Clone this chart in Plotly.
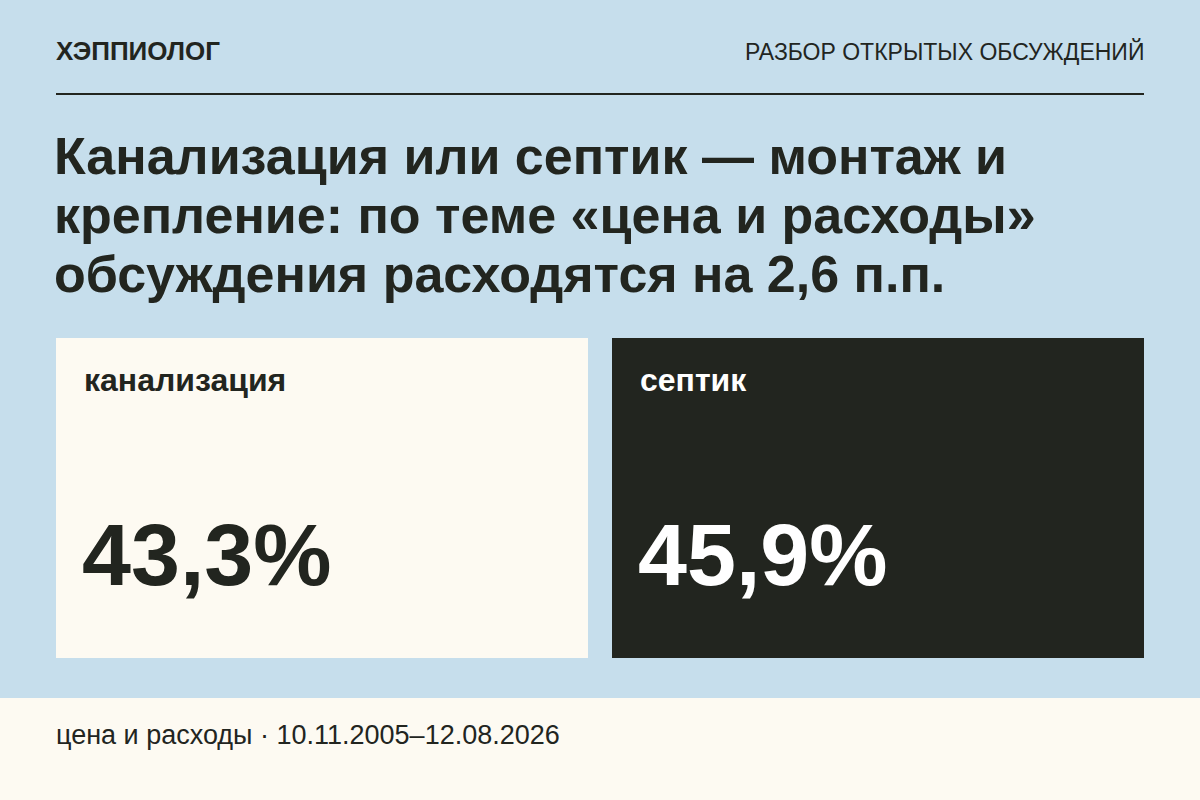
import plotly.graph_objects as go

brand = "ХЭППИОЛОГ"
kicker = "РАЗБОР ОТКРЫТЫХ ОБСУЖДЕНИЙ"
title_lines = ["Канализация или септик — монтаж и",
               "крепление: по теме «цена и расходы»",
               "обсуждения расходятся на 2,6 п.п."]
categories = ["канализация", "септик"]
values = [43.3, 45.9]
footer = "цена и расходы · 10.11.2005–12.08.2026"

BG = "#c6deec"
CREAM = "#fdfaf2"
DARK = "#22251f"
FONT = "Liberation Sans"

fig = go.Figure()

# cards as bars
card_x = [322, 878]
fig.add_trace(go.Bar(x=card_x, y=[320, 320], base=[338, 338], width=532,
                     marker=dict(color=[CREAM, DARK], line=dict(width=0)),
                     hoverinfo="skip", showlegend=False))

fig.add_shape(type="rect", x0=0, x1=1200, y0=698, y1=800, fillcolor=CREAM,
              line_width=0, layer="below")
fig.add_shape(type="line", x0=56, x1=1144, y0=94, y1=94, line=dict(color=DARK, width=2))

def txt(x, y, s, size, color=DARK, bold=False, anchor="left"):
    fig.add_annotation(x=x, y=y, text=f"<b>{s}</b>" if bold else s, showarrow=False,
                       xanchor=anchor, yanchor="middle",
                       font=dict(family=FONT, size=size, color=color))

txt(54, 51, brand, 26, bold=True)
txt(1146, 51, kicker, 23, anchor="right")
for i, line in enumerate(title_lines):
    txt(52, 156 + i * 59, line, 52, bold=True)

text_colors = [DARK, "#ffffff"]
for i, (c, v) in enumerate(zip(categories, values)):
    left = card_x[i] - 266 + 28
    txt(left - 2, 380, c, 32, text_colors[i], bold=True)
    txt(left - 4, 554, f"{v:.1f}%".replace(".", ","), 88, text_colors[i], bold=True)

txt(54, 735, footer, 27)

fig.update_layout(width=1200, height=800, margin=dict(l=0, r=0, t=0, b=0),
                  paper_bgcolor=BG, plot_bgcolor=BG, bargap=0,
                  xaxis=dict(range=[0, 1200], visible=False, fixedrange=True),
                  yaxis=dict(range=[800, 0], visible=False, fixedrange=True))
fig.write_html("out.html", config={"displayModeBar": False},
               post_script="document.body.style.margin='0';")
